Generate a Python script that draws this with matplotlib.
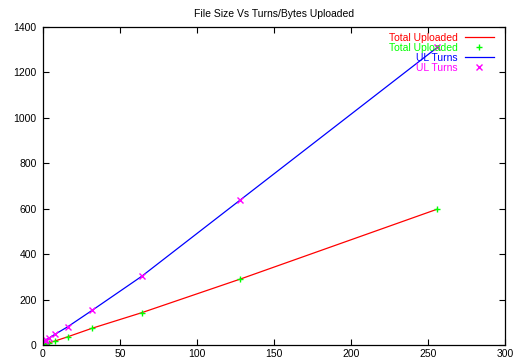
import matplotlib
matplotlib.use("Agg")
import matplotlib.pyplot as plt
from matplotlib.lines import Line2D

file_size = [1, 2, 4, 8, 16, 32, 64, 128, 256]
total_uploaded = [4, 6, 10, 18, 36, 74, 142, 290, 598]
ul_turns = [18, 24, 31, 48, 80, 153, 302, 638, 1310]

x_ticks = [0, 50, 100, 150, 200, 250, 300]
y_ticks = [0, 200, 400, 600, 800, 1000, 1200, 1400]

plt.rcParams['font.family'] = ['Liberation Sans', 'DejaVu Sans']
plt.rcParams['font.size'] = 7.5

fig = plt.figure(figsize=(5.13, 3.64), dpi=100)
ax = fig.add_axes([0.0838, 0.0522, 0.9006, 0.8736])

ax.plot(file_size, total_uploaded, color='#ff0000', linewidth=0.9)
ax.plot(file_size, total_uploaded, linestyle='none', marker='+',
        color='#00ff00', markersize=5, markeredgewidth=1.0)
ax.plot(file_size, ul_turns, color='#0000ff', linewidth=0.9)
ax.plot(file_size, ul_turns, linestyle='none', marker='x',
        color='#ff00ff', markersize=4, markeredgewidth=1.0)

ax.set_xlim(0, 300)
ax.set_ylim(0, 1400)
ax.set_xticks(x_ticks)
ax.set_yticks(y_ticks)
ax.tick_params(direction='in', length=4, width=0.8, top=True, right=True,
               labelsize=7.5)
ax.tick_params(axis='x', pad=3)
ax.tick_params(axis='y', pad=4.5)
for s in ax.spines.values():
    s.set_linewidth(0.9)

ax.set_title('File Size Vs Turns/Bytes Uploaded', fontsize=7.5, pad=7.5)

handles = [
    Line2D([], [], color='#ff0000', linewidth=0.9),
    Line2D([], [], color='#00ff00', linestyle='none', marker='+',
           markersize=5, markeredgewidth=1.0),
    Line2D([], [], color='#0000ff', linewidth=0.9),
    Line2D([], [], color='#ff00ff', linestyle='none', marker='x',
           markersize=4, markeredgewidth=1.0),
]
labels = ['Total Uploaded', 'Total Uploaded', 'UL Turns', 'UL Turns']
ax.legend(handles, labels, loc='upper right', bbox_to_anchor=(0.976, 0.981),
          frameon=False, markerfirst=False, labelcolor='linecolor',
          handlelength=2.8, handletextpad=0.7, labelspacing=0.0,
          borderpad=0, borderaxespad=0, fontsize=7.5)

fig.savefig('out.png', dpi=100)
